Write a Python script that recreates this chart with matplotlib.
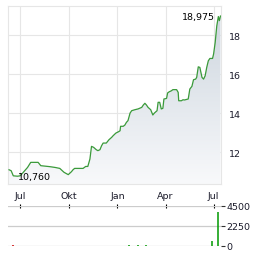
import numpy as np
import pandas as pd
import matplotlib
matplotlib.use("Agg")
import matplotlib.pyplot as plt
import matplotlib.dates as mdates
from matplotlib.patches import Polygon
from matplotlib.colors import LinearSegmentedColormap

# ---- data ----
dates = ["2023-06-10","2023-06-14","2023-06-18","2023-06-26","2023-07-01","2023-07-07",
         "2023-07-15","2023-07-21","2023-08-04","2023-08-09","2023-08-26","2023-09-05",
         "2023-09-14","2023-09-22","2023-09-30","2023-10-06","2023-10-09","2023-10-12",
         "2023-10-28","2023-11-02","2023-11-06","2023-11-10","2023-11-13","2023-11-17",
         "2023-11-22","2023-11-25","2023-11-29","2023-12-02","2023-12-05","2023-12-11",
         "2023-12-16","2023-12-21","2023-12-24","2023-12-29","2024-01-03","2024-01-06",
         "2024-01-07","2024-01-12","2024-01-15","2024-01-18","2024-01-21","2024-01-25",
         "2024-01-28","2024-02-03","2024-02-09","2024-02-16","2024-02-19","2024-02-22",
         "2024-02-25","2024-02-28","2024-03-04","2024-03-08","2024-03-11","2024-03-16",
         "2024-03-18","2024-03-21","2024-03-24","2024-03-27","2024-03-29","2024-04-03",
         "2024-04-05","2024-04-08","2024-04-12","2024-04-15","2024-04-22","2024-04-25",
         "2024-04-26","2024-05-01","2024-05-04","2024-05-07","2024-05-14","2024-05-17",
         "2024-05-21","2024-05-24","2024-05-28","2024-05-30","2024-06-02","2024-06-05",
         "2024-06-09","2024-06-12","2024-06-15","2024-06-18","2024-06-21","2024-06-24",
         "2024-06-29","2024-07-01","2024-07-04","2024-07-07","2024-07-10","2024-07-12",
         "2024-07-14"]
prices = [11.09,11.04,10.78,10.76,10.78,10.96,
          11.21,11.47,11.47,11.30,11.25,11.21,
          11.16,10.96,10.84,10.99,11.09,11.16,
          11.16,11.26,11.26,11.64,12.29,12.24,
          12.12,12.07,12.12,12.32,12.46,12.46,
          12.63,12.75,12.84,12.97,13.04,13.09,
          13.32,13.32,13.38,13.52,13.61,14.00,
          14.12,14.17,14.21,14.29,14.41,14.50,
          14.41,14.29,14.17,13.90,14.00,14.12,
          14.55,14.55,14.21,14.24,14.72,14.75,
          15.03,15.09,15.14,15.20,15.20,15.06,
          14.63,14.63,14.68,14.67,14.72,15.23,
          15.37,15.71,15.74,15.83,16.37,16.34,
          15.83,15.74,15.91,16.34,16.68,16.80,
          16.80,17.03,17.62,18.47,18.95,18.74,
          18.975]

vol_dates = ["2023-06-18","2024-01-23","2024-02-09","2024-02-25","2024-06-28","2024-07-09"]
vol_values = [80, 80, 100, 100, 550, 3800]
vol_colors = ["#cc0000","#009900","#009900","#009900","#009900","#009900"]

xtick_dates = ["2023-07-01","2023-10-01","2024-01-01","2024-04-01","2024-07-01"]
xtick_labels = ["Jul","Okt","Jan","Apr","Jul"]
price_ticks = [12, 14, 16, 18]
vol_ticks = [0, 2250, 4500]

# ---- figure ----
W, H = 264, 255
fig = plt.figure(figsize=(W/100, H/100), dpi=100)
plt.rcParams['font.family'] = ['DejaVu Sans']
fs = 6.8

def fx(px): return px / W
def fy(py): return 1 - py / H

ax = fig.add_axes([fx(8), fy(185), fx(221) - fx(8), fy(7) - fy(185)])
ax2 = fig.add_axes([fx(8), fy(246.7), fx(221) - fx(8), fy(207) - fy(246.7)])

d = pd.to_datetime(dates)
x = mdates.date2num(d)
y = np.array(prices)

xmin = mdates.date2num(pd.Timestamp("2023-06-08"))
xmax = mdates.date2num(pd.Timestamp("2024-07-15"))
ymin, ymax = 10.36, 19.49

ax.set_xlim(xmin, xmax)
ax.set_ylim(ymin, ymax)

# gradient fill
cmap = LinearSegmentedColormap.from_list("g", ["#f8f9fb", "#cbd4dd"])
grad = np.linspace(0, 1, 256).reshape(-1, 1)
im = ax.imshow(grad, extent=[xmin, xmax, ymin, ymax], origin="lower",
               aspect="auto", cmap=cmap, zorder=1)
verts = np.vstack([[x[0], ymin], np.column_stack([x, y]), [x[-1], ymin]])
poly = Polygon(verts, closed=True, transform=ax.transData, facecolor="none", edgecolor="none")
ax.add_patch(poly)
im.set_clip_path(poly)

ax.plot(x, y, color="#3a9a3a", lw=0.9, zorder=3)

ax.set_xticks(mdates.date2num(pd.to_datetime(xtick_dates)))
ax.set_xticklabels(xtick_labels, fontsize=fs, color="#1a1a2a")
ax.set_yticks(price_ticks)
ax.set_yticklabels([str(t) for t in price_ticks], fontsize=fs, color="#1a1a2a")
ax.yaxis.tick_right()
ax.tick_params(axis="both", length=0)
ax.tick_params(axis="y", pad=6)
ax.tick_params(axis="x", pad=5)
ax.grid(True, color="#e6e6e6", lw=0.8, zorder=0)
ax.set_axisbelow(True)
for s in ax.spines.values():
    s.set_color("#e6e6e6")
    s.set_linewidth(0.8)

# max / min annotations
imax = int(np.argmax(y)); imin = int(np.argmin(y))
ax.annotate(f"{y[imax]:.3f}".replace(".", ","), (x[imax], y[imax]),
            xytext=(-6, 0), textcoords="offset pixels", ha="right", va="center",
            fontsize=fs, color="#000000", zorder=5)
ax.annotate(f"{y[imin]:.3f}".replace(".", ","), (x[imin], y[imin]),
            xytext=(0, 0), textcoords="offset pixels", ha="left", va="center",
            fontsize=fs, color="#000000", zorder=5)

# ---- volume ----
vx = mdates.date2num(pd.to_datetime(vol_dates))
ax2.vlines(vx, 0, vol_values, colors=vol_colors, lw=1.1, zorder=3)
ax2.set_xlim(xmin, xmax)
ax2.set_ylim(0, 4500)
ax2.set_yticks(vol_ticks)
ax2.set_yticklabels([str(t) for t in vol_ticks], fontsize=fs, color="#1a1a2a")
ax2.yaxis.tick_right()
ax2.tick_params(axis="y", length=3, width=0.8, pad=1, color="#333333")
ax2.set_xticks(mdates.date2num(pd.to_datetime(xtick_dates)))
ax2.xaxis.tick_top()
ax2.tick_params(axis="x", length=3, width=0.8, direction="inout", labeltop=False, color="#000000")
ax2.grid(True, axis="y", color="#cccccc", lw=0.9, zorder=0)
for s in ax2.spines.values():
    s.set_visible(False)

fig.savefig("out.png", dpi=100)
